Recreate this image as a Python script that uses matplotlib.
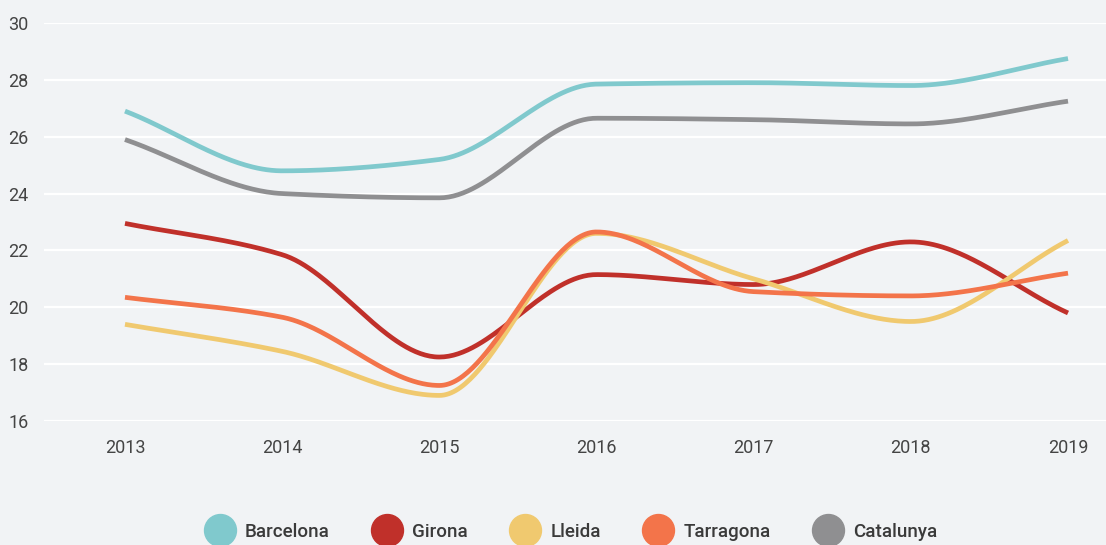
import numpy as np
import matplotlib.pyplot as plt
from matplotlib.lines import Line2D

anys = [2013, 2014, 2015, 2016, 2017, 2018, 2019]
barcelona = [26.9, 24.8, 25.2, 27.85, 27.9, 27.8, 28.75]
girona = [22.95, 21.85, 18.25, 21.15, 20.8, 22.3, 19.8]
lleida = [19.4, 18.45, 16.9, 22.6, 21.0, 19.5, 22.35]
tarragona = [20.35, 19.65, 17.25, 22.65, 20.55, 20.4, 21.2]
catalunya = [25.9, 24.0, 23.85, 26.65, 26.6, 26.45, 27.25]

noms = ["Barcelona", "Girona", "Lleida", "Tarragona", "Catalunya"]
series = [barcelona, girona, lleida, tarragona, catalunya]
colors = ["#80c9cd", "#c0302a", "#f0c96f", "#f3744a", "#8f8f91"]

fons = "#f1f3f5"
text_color = "#444444"


def monotona(x, y, n=400):
    # interpolacio cubica monotona (Fritsch-Carlson)
    x = np.asarray(x, float)
    y = np.asarray(y, float)
    h = np.diff(x)
    d = np.diff(y) / h
    m = np.zeros_like(y)
    m[0] = d[0]
    m[-1] = d[-1]
    for i in range(1, len(y) - 1):
        if d[i - 1] * d[i] <= 0:
            m[i] = 0
        else:
            m[i] = 3 * (h[i - 1] + h[i]) / ((2 * h[i] + h[i - 1]) / d[i - 1] + (h[i] + 2 * h[i - 1]) / d[i])
    xs = np.linspace(x[0], x[-1], n)
    idx = np.clip(np.searchsorted(x, xs) - 1, 0, len(h) - 1)
    t = (xs - x[idx]) / h[idx]
    h00 = 2 * t**3 - 3 * t**2 + 1
    h10 = t**3 - 2 * t**2 + t
    h01 = -2 * t**3 + 3 * t**2
    h11 = t**3 - t**2
    ys = h00 * y[idx] + h10 * h[idx] * m[idx] + h01 * y[idx + 1] + h11 * h[idx] * m[idx + 1]
    return xs, ys


plt.rcParams['font.family'] = ['Roboto', 'DejaVu Sans']

fig = plt.figure(figsize=(11.06, 5.45), dpi=100, facecolor=fons)
ax = fig.add_axes([44 / 1106, (545 - 421) / 545, 1 - 44 / 1106, (421 - 23) / 545])
ax.set_facecolor(fons)

for nom, valors, c in zip(noms, series, colors):
    xs, ys = monotona(anys, valors)
    ax.plot(xs, ys, color=c, lw=3.4, solid_capstyle='butt', label=nom)

ax.set_xlim(2013 - 81 / 157.2, 2019 + 38 / 157.2)
ax.set_ylim(16, 30)
ax.set_yticks(range(16, 31, 2))
ax.set_xticks(anys)
ax.grid(axis='y', color='white', lw=1.6)
ax.set_axisbelow(True)
for s in ax.spines.values():
    s.set_visible(False)
ax.tick_params(length=0, labelsize=13, labelcolor=text_color)
ax.tick_params(axis='x', pad=13)
ax.tick_params(axis='y', pad=11)

handles = [Line2D([], [], ls='none', marker='o', markersize=23, color=c) for c in colors]
leg = fig.legend(handles, noms, loc='center', bbox_to_anchor=(0.518, (545 - 532) / 545), ncol=5,
                 frameon=False, handlelength=1.2, handletextpad=0.75, columnspacing=2.45,
                 prop={'size': 13.5, 'weight': 'medium'}, labelcolor="#3a3a3a")

fig.savefig("out.png", dpi=100, facecolor=fons)
